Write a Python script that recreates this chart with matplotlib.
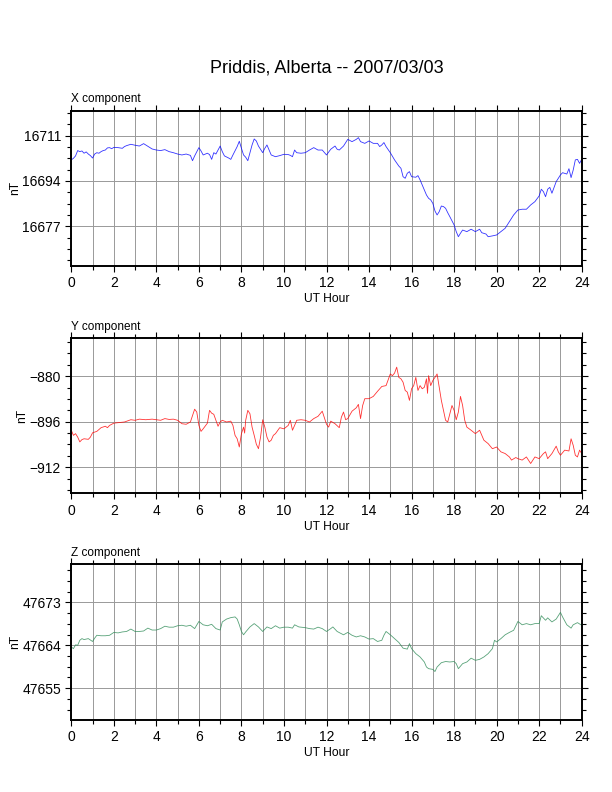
import numpy as np
import matplotlib
matplotlib.use("Agg")
import matplotlib.pyplot as plt
from matplotlib.ticker import MultipleLocator

plt.rcParams["font.family"] = ["Liberation Sans", "DejaVu Sans"]

TITLE = "Priddis, Alberta -- 2007/03/03"

# (UT hour, nT)
X_TRACE = [
    (0.0, 16701.9), (0.1, 16702.5), (0.2, 16703.4), (0.3, 16705.4), (0.4, 16705.0),
    (0.5, 16705.25), (0.6, 16704.4), (0.7, 16704.9), (0.8, 16704.1), (0.9, 16703.5),
    (1.0, 16702.6), (1.1, 16704.1), (1.2, 16704.6), (1.3, 16704.4), (1.4, 16705.0),
    (1.5, 16705.4), (1.6, 16705.6), (1.7, 16706.4), (1.8, 16706.5), (1.9, 16706.1),
    (2.0, 16706.6), (2.2, 16706.5), (2.4, 16706.25), (2.5, 16706.9), (2.6, 16707.25),
    (2.8, 16707.75), (3.0, 16707.4), (3.2, 16707.1), (3.4, 16708.0), (3.6, 16707.0),
    (3.8, 16706.0), (4.0, 16705.6), (4.2, 16705.4), (4.4, 16705.75), (4.6, 16705.0),
    (4.8, 16704.6), (5.0, 16704.1), (5.2, 16703.75), (5.4, 16704.1), (5.6, 16703.6),
    (5.7, 16701.6), (5.8, 16703.4), (6.0, 16706.5), (6.1, 16705.25), (6.2, 16703.75),
    (6.4, 16704.4), (6.5, 16703.9), (6.6, 16702.1), (6.7, 16704.6), (6.8, 16704.1),
    (6.9, 16705.6), (7.0, 16707.1), (7.1, 16705.0), (7.2, 16703.4), (7.4, 16702.6),
    (7.5, 16702.1), (7.6, 16703.75), (7.8, 16706.9), (7.9, 16708.9), (8.0, 16706.25),
    (8.1, 16703.75), (8.2, 16702.9), (8.3, 16701.6), (8.4, 16704.6), (8.5, 16707.5),
    (8.6, 16709.75), (8.7, 16709.0), (8.8, 16707.1), (9.0, 16704.6), (9.1, 16706.25),
    (9.2, 16707.5), (9.3, 16705.6), (9.4, 16703.75), (9.6, 16703.1), (9.8, 16703.5),
    (10.0, 16704.0), (10.2, 16703.9), (10.3, 16703.6), (10.4, 16703.1), (10.5, 16705.6),
    (10.6, 16704.6), (10.8, 16704.4), (11.0, 16704.6), (11.2, 16705.6), (11.4, 16706.5),
    (11.6, 16705.6), (11.8, 16705.6), (12.0, 16703.75), (12.2, 16705.9), (12.4, 16707.1),
    (12.5, 16705.9), (12.6, 16705.6), (12.8, 16707.1), (13.0, 16709.6), (13.2, 16708.75),
    (13.4, 16709.6), (13.5, 16710.25), (13.6, 16708.75), (13.8, 16708.1), (14.0, 16709.0),
    (14.2, 16708.1), (14.4, 16708.1), (14.5, 16706.9), (14.6, 16707.5), (14.7, 16708.4),
    (14.8, 16706.9), (15.0, 16704.6), (15.2, 16701.9), (15.4, 16699.6), (15.5, 16698.75),
    (15.6, 16695.6), (15.7, 16695.0), (15.8, 16696.9), (15.9, 16697.5), (16.0, 16695.6),
    (16.2, 16695.4), (16.3, 16696.0), (16.4, 16694.4), (16.6, 16690.6), (16.7, 16688.75),
    (16.8, 16687.5), (16.9, 16686.9), (17.0, 16685.6), (17.1, 16682.75), (17.2, 16681.25),
    (17.3, 16682.5), (17.4, 16684.6), (17.5, 16684.4), (17.6, 16683.75), (17.7, 16682.1),
    (17.8, 16680.6), (18.0, 16677.5), (18.1, 16675.0), (18.2, 16673.1), (18.3, 16674.4),
    (18.4, 16675.6), (18.6, 16675.0), (18.8, 16675.9), (19.0, 16675.0), (19.2, 16675.9),
    (19.3, 16674.6), (19.5, 16674.1), (19.6, 16673.1), (19.8, 16673.4), (20.0, 16673.75),
    (20.2, 16675.0), (20.4, 16676.25), (20.6, 16678.75), (20.8, 16681.25), (21.0, 16683.1),
    (21.2, 16683.4), (21.4, 16683.4), (21.6, 16685.0), (21.8, 16686.25), (22.0, 16688.4),
    (22.1, 16690.9), (22.2, 16690.0), (22.3, 16688.1), (22.4, 16690.9), (22.5, 16691.6),
    (22.6, 16689.4), (22.8, 16693.75), (23.0, 16696.25), (23.1, 16697.1), (23.3, 16696.6),
    (23.4, 16698.6), (23.5, 16695.25), (23.6, 16698.1), (23.7, 16701.9), (23.8, 16702.1),
    (23.9, 16700.6), (24.0, 16702.1),
]

Y_TRACE = [
    (0.0, -899.0), (0.1, -900.8), (0.2, -900.2), (0.3, -901.4), (0.4, -903.1),
    (0.5, -902.3), (0.6, -902.0), (0.8, -902.2), (0.9, -901.4), (1.0, -899.9),
    (1.2, -899.4), (1.4, -898.1), (1.6, -897.6), (1.7, -898.1), (1.8, -897.3),
    (2.0, -896.5), (2.2, -896.35), (2.5, -896.1), (2.8, -895.3), (3.0, -895.5),
    (3.2, -895.1), (3.5, -895.3), (3.8, -895.1), (4.0, -895.3), (4.2, -895.5),
    (4.4, -894.9), (4.6, -895.2), (4.8, -895.1), (5.0, -895.5), (5.2, -896.7),
    (5.4, -896.9), (5.6, -896.1), (5.7, -893.8), (5.8, -891.6), (5.9, -892.6),
    (6.0, -897.3), (6.1, -899.4), (6.2, -898.5), (6.4, -896.5), (6.5, -892.0),
    (6.6, -893.0), (6.7, -893.4), (6.8, -895.5), (6.9, -897.6), (7.0, -896.1),
    (7.1, -895.5), (7.3, -896.1), (7.5, -895.8), (7.6, -897.3), (7.7, -900.8),
    (7.8, -902.0), (7.9, -904.9), (8.0, -900.2), (8.1, -897.9), (8.15, -900.0),
    (8.2, -895.5), (8.3, -892.0), (8.4, -893.2), (8.5, -897.9), (8.6, -900.8),
    (8.7, -903.9), (8.8, -905.5), (8.9, -901.4), (9.0, -895.3), (9.1, -897.9),
    (9.2, -901.4), (9.3, -903.1), (9.4, -902.5), (9.5, -900.8), (9.6, -900.2),
    (9.8, -898.1), (10.0, -898.5), (10.2, -897.3), (10.3, -895.5), (10.4, -899.0),
    (10.5, -897.3), (10.6, -895.5), (10.8, -895.3), (11.0, -895.5), (11.2, -896.1),
    (11.4, -894.9), (11.6, -894.1), (11.8, -892.3), (12.0, -896.9), (12.1, -897.9),
    (12.2, -895.8), (12.4, -896.7), (12.6, -898.1), (12.7, -894.4), (12.8, -892.6),
    (12.9, -895.3), (13.0, -894.9), (13.2, -892.3), (13.4, -891.1), (13.5, -889.9),
    (13.6, -894.9), (13.7, -890.3), (13.8, -887.9), (14.0, -887.9), (14.2, -887.1),
    (14.4, -885.3), (14.6, -883.6), (14.8, -883.3), (15.0, -879.2), (15.1, -879.8),
    (15.2, -878.9), (15.3, -876.8), (15.4, -880.4), (15.5, -880.9), (15.6, -882.1),
    (15.7, -885.0), (15.8, -885.6), (15.9, -888.5), (16.0, -884.4), (16.1, -883.3),
    (16.2, -880.4), (16.3, -885.0), (16.4, -883.3), (16.5, -884.4), (16.6, -883.9),
    (16.7, -880.9), (16.75, -886.0), (16.8, -879.8), (16.9, -883.3), (17.0, -881.5),
    (17.1, -880.4), (17.2, -879.2), (17.3, -883.9), (17.4, -888.5), (17.5, -892.0),
    (17.6, -895.5), (17.7, -896.1), (17.8, -893.2), (17.9, -890.3), (18.0, -892.0),
    (18.1, -895.3), (18.2, -892.6), (18.3, -887.1), (18.4, -890.3), (18.5, -895.5),
    (18.6, -897.9), (18.8, -899.0), (19.0, -900.2), (19.2, -899.0), (19.4, -902.5),
    (19.6, -903.7), (19.8, -905.5), (20.0, -904.9), (20.2, -906.6), (20.4, -907.2),
    (20.6, -908.4), (20.7, -909.5), (20.9, -908.6), (21.0, -909.0), (21.2, -909.5),
    (21.4, -908.4), (21.6, -910.7), (21.8, -908.4), (22.0, -909.0), (22.2, -907.2),
    (22.3, -906.6), (22.4, -909.0), (22.6, -907.2), (22.8, -904.6), (22.9, -906.6),
    (23.0, -907.8), (23.2, -906.0), (23.4, -906.3), (23.5, -902.0), (23.6, -904.3),
    (23.7, -907.8), (23.8, -908.4), (23.9, -906.0), (24.0, -907.2),
]

Z_TRACE = [
    (0.0, 47663.65), (0.1, 47663.3), (0.2, 47664.1), (0.3, 47664.0), (0.4, 47665.05),
    (0.5, 47665.4), (0.6, 47665.2), (0.8, 47665.4), (1.0, 47664.8), (1.1, 47665.5),
    (1.2, 47666.1), (1.4, 47666.0), (1.6, 47666.0), (1.8, 47666.1), (2.0, 47666.7),
    (2.2, 47666.6), (2.4, 47666.8), (2.6, 47666.9), (2.8, 47667.4), (3.0, 47666.9),
    (3.2, 47666.9), (3.4, 47667.0), (3.6, 47667.6), (3.8, 47667.2), (4.0, 47667.2),
    (4.2, 47667.5), (4.4, 47668.0), (4.6, 47667.8), (4.8, 47667.8), (5.0, 47668.1),
    (5.2, 47668.2), (5.4, 47668.0), (5.6, 47668.2), (5.8, 47667.5), (6.0, 47669.0),
    (6.2, 47668.3), (6.4, 47668.1), (6.6, 47668.4), (6.8, 47667.5), (7.0, 47667.2),
    (7.1, 47668.9), (7.3, 47669.5), (7.5, 47669.8), (7.7, 47669.95), (7.8, 47669.5),
    (7.9, 47668.3), (8.0, 47666.9), (8.1, 47666.2), (8.2, 47666.8), (8.4, 47667.85),
    (8.6, 47668.55), (8.8, 47667.85), (9.0, 47666.9), (9.2, 47667.85), (9.4, 47667.5),
    (9.6, 47668.1), (9.8, 47667.6), (10.0, 47667.8), (10.2, 47667.8), (10.4, 47667.6),
    (10.5, 47668.3), (10.7, 47667.85), (11.0, 47667.7), (11.2, 47667.5), (11.4, 47667.4),
    (11.6, 47667.8), (11.8, 47667.5), (12.0, 47666.9), (12.2, 47667.5), (12.3, 47667.85),
    (12.5, 47666.9), (12.8, 47666.2), (13.0, 47666.7), (13.2, 47666.1), (13.4, 47665.75),
    (13.6, 47666.0), (13.8, 47665.75), (14.0, 47665.3), (14.2, 47665.4), (14.4, 47664.8),
    (14.6, 47665.05), (14.7, 47666.1), (14.8, 47666.9), (15.0, 47666.2), (15.2, 47665.4),
    (15.4, 47664.6), (15.6, 47663.4), (15.8, 47663.2), (15.9, 47664.35), (16.0, 47663.3),
    (16.2, 47662.25), (16.4, 47661.55), (16.6, 47660.5), (16.7, 47659.45), (16.8, 47659.1),
    (17.0, 47658.95), (17.1, 47658.5), (17.2, 47659.45), (17.4, 47660.35), (17.6, 47660.6),
    (17.8, 47660.5), (18.0, 47660.6), (18.1, 47660.15), (18.2, 47659.1), (18.4, 47660.15),
    (18.6, 47660.5), (18.8, 47661.3), (19.0, 47660.85), (19.2, 47661.05), (19.4, 47661.55),
    (19.6, 47662.25), (19.8, 47663.3), (19.9, 47665.05), (20.0, 47664.7), (20.2, 47665.4),
    (20.4, 47666.2), (20.6, 47666.7), (20.8, 47667.15), (21.0, 47669.0), (21.2, 47668.3),
    (21.4, 47668.55), (21.6, 47668.3), (21.8, 47668.55), (22.0, 47668.55), (22.1, 47670.2),
    (22.3, 47669.25), (22.4, 47669.75), (22.6, 47668.9), (22.8, 47669.5), (23.0, 47670.9),
    (23.1, 47669.95), (23.3, 47668.3), (23.5, 47667.6), (23.6, 47668.3), (23.8, 47668.75),
    (24.0, 47668.2),
]

# annotated levels and axis ranges of each panel
X_TICKS = [16677, 16694, 16711]
Y_TICKS = [-912, -896, -880]
Z_TICKS = [47655, 47664, 47673]
X_RANGE = (16662.1, 16720.4)
Y_RANGE = (-921.2, -866.5)
Z_RANGE = (47648.4, 47681.0)

HOUR_TICKS = list(range(0, 25, 2))

PANELS = [
    ("X component", X_TRACE, X_TICKS, X_RANGE, "#0000ff", 0.6641),
    ("Y component", Y_TRACE, Y_TICKS, Y_RANGE, "#ff0000", 0.3771),
    ("Z component", Z_TRACE, Z_TICKS, Z_RANGE, "#2e8b57", 0.0913),
]


def draw_panel(fig, name, trace, ticks, yrange, color, bottom):
    ax = fig.add_axes([0.1165, bottom, 0.834, 0.1963])
    hrs, vals = zip(*trace)
    ax.plot(hrs, vals, color=color, lw=0.6, alpha=0.8)

    ax.set_xlim(0, 24)
    ax.set_ylim(*yrange)
    ax.set_xticks(HOUR_TICKS)
    ax.xaxis.set_minor_locator(MultipleLocator(1))
    ax.set_yticks(ticks)
    ax.yaxis.set_minor_locator(MultipleLocator((ticks[1] - ticks[0]) / 4))

    # hourly grid plus the annotated nT levels
    ax.grid(True, which="major", color="#999999", lw=0.7)
    ax.grid(True, which="minor", axis="x", color="#999999", lw=0.7)
    ax.set_axisbelow(True)

    ax.tick_params(which="both", direction="out", top=True, right=True,
                   labelsize=10, width=0.8)
    ax.tick_params(which="major", length=4)
    ax.tick_params(which="minor", length=3)
    for sp in ax.spines.values():
        sp.set_linewidth(1.4)

    ax.set_xlabel("UT Hour", fontsize=8.7, labelpad=2)
    ax.set_ylabel("nT", fontsize=8.7, labelpad=1)
    ax.set_title(name, fontsize=8.5, loc="left", pad=6)
    return ax


def main():
    fig = plt.figure(figsize=(6.12, 7.92), dpi=100)
    for name, trace, ticks, yrange, color, bottom in PANELS:
        draw_panel(fig, name, trace, ticks, yrange, color, bottom)
    fig.text(0.534, 0.914, TITLE, ha="center", va="center", fontsize=13)
    fig.savefig("out.png", dpi=100)
    plt.close(fig)


if __name__ == "__main__":
    main()
